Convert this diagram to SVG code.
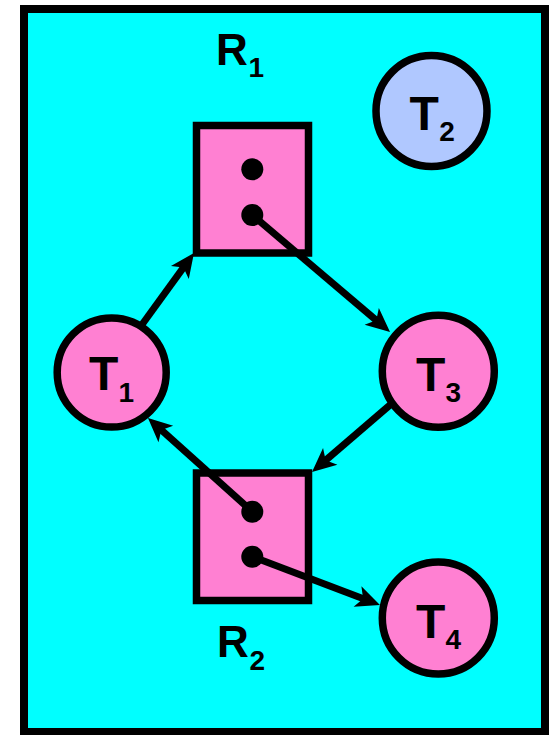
<svg xmlns="http://www.w3.org/2000/svg" width="549" height="735" viewBox="0 0 549 735">
<style>
.node{stroke:#000;stroke-width:7.5}
.pink{fill:#FF80D2}
.blue{fill:#B0C8FF}
.lbl{font-family:"Liberation Sans",Arial,sans-serif;font-weight:bold;fill:#000}
.big{font-size:48px}
.rbig{font-size:44px}
.sub{font-size:28px}
.edge{stroke:#000;stroke-width:7;fill:none;marker-end:url(#ah)}
.dot{fill:#000}
</style>
<defs>
<marker id="ah" markerUnits="userSpaceOnUse" orient="auto" refX="0" refY="0" markerWidth="40" markerHeight="40" overflow="visible">
<path d="M10,0 L-14,-11 L-8,0 L-14,11 Z" fill="#000"/>
</marker>
</defs>
<rect x="24" y="9" width="521" height="723" fill="#00FFFF" stroke="#000" stroke-width="8"/>
<g id="R1">
<rect class="node pink" x="196.5" y="125.5" width="112" height="127.5"/>
<circle class="dot" cx="252.3" cy="169.3" r="11"/>
<circle class="dot" cx="252.3" cy="215" r="11"/>
<text class="lbl rbig" x="216" y="65">R<tspan class="sub" x="248.5" y="77">1</tspan></text>
</g>
<g id="R2">
<rect class="node pink" x="196.5" y="473" width="112" height="127.5"/>
<circle class="dot" cx="252.3" cy="511.7" r="11"/>
<circle class="dot" cx="252.3" cy="556.7" r="11"/>
<text class="lbl rbig" x="217" y="657">R<tspan class="sub" x="249.5" y="670">2</tspan></text>
</g>
<g id="T1">
<circle class="node pink" cx="111.7" cy="372.5" r="54.5"/>
<text class="lbl big" x="89" y="390">T<tspan class="sub" x="118.6" y="402">1</tspan></text>
</g>
<g id="T2">
<circle class="node blue" cx="431.5" cy="111" r="55.5"/>
<text class="lbl big" x="409.5" y="129.5">T<tspan class="sub" x="439.2" y="141">2</tspan></text>
</g>
<g id="T3">
<circle class="node pink" cx="438.3" cy="371.3" r="56"/>
<text class="lbl big" x="416" y="390.7">T<tspan class="sub" x="445.6" y="402">3</tspan></text>
</g>
<g id="T4">
<circle class="node pink" cx="438.3" cy="618" r="56"/>
<text class="lbl big" x="416" y="638.3">T<tspan class="sub" x="445.6" y="649">4</tspan></text>
</g>
<g id="connectors">
<line class="edge" x1="141" y1="326" x2="188.1" y2="261.1"/>
<line class="edge" x1="252.3" y1="215" x2="382.4" y2="325.5"/>
<line class="edge" x1="252.3" y1="511.7" x2="155.4" y2="424.7"/>
<line class="edge" x1="390" y1="405" x2="319.6" y2="465.5"/>
<line class="edge" x1="252.3" y1="556.7" x2="370.6" y2="601.5"/>
</g>
</svg>
